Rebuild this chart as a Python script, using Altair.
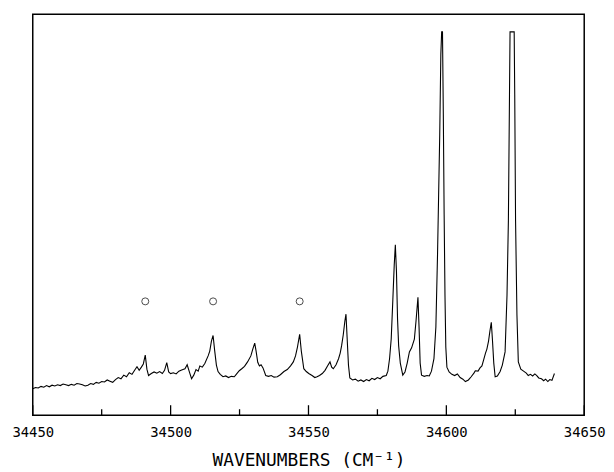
import altair as alt
import pandas as pd

# Spectrum: wavenumber (cm^-1) and intensity (arbitrary units, 0-100 plot scale)
wavenumber = [
    34450, 34451, 34452, 34453, 34454, 34455, 34456, 34457, 34458, 34459,
    34460, 34461, 34462, 34463, 34464, 34465, 34466, 34467, 34468, 34469,
    34470, 34471, 34472, 34473, 34474, 34475, 34476, 34477, 34478, 34479,
    34480, 34481, 34482, 34483, 34484, 34485, 34486, 34487, 34487.8, 34488.6,
    34489.4, 34490.1, 34490.8, 34491.4, 34492, 34493, 34494, 34495, 34496, 34497,
    34497.8, 34498.6, 34499.3, 34500, 34501, 34502, 34503, 34504, 34505.2, 34506,
    34506.8, 34507.6, 34508.4, 34509.2, 34510, 34510.6, 34511.5, 34512.4, 34513.6, 34514.2,
    34514.8, 34515.4, 34516, 34516.6, 34517.2, 34518, 34519, 34520, 34521, 34522,
    34523.1, 34523.8, 34524.9, 34525.8, 34526.8, 34527.9, 34529.1, 34529.8, 34530.5, 34531,
    34531.6, 34532.2, 34532.8, 34533.5, 34534.5, 34535.5, 34536.5, 34537.5, 34538.7, 34539.8,
    34541.1, 34542.3, 34543.5, 34544.5, 34545.3, 34546, 34546.8, 34547.4, 34548.3, 34549.2,
    34550.1, 34551.3, 34552.3, 34553.1, 34554, 34555, 34556, 34557, 34557.8, 34558.4,
    34559, 34560, 34560.9, 34561.5, 34562, 34562.6, 34563.2, 34563.6, 34564, 34564.5,
    34565, 34566, 34567, 34568, 34569, 34570, 34571, 34572, 34573, 34574,
    34575, 34576, 34577, 34578.2, 34578.8, 34579.4, 34580, 34580.6, 34581.1, 34581.5,
    34581.9, 34582.3, 34582.7, 34583.3, 34584.2, 34585, 34585.8, 34586.6, 34587.4, 34588.4,
    34589, 34589.7, 34590.1, 34590.5, 34591, 34592, 34593, 34593.8, 34594.6, 34595.5,
    34596.2, 34596.8, 34597.2, 34597.6, 34598.0, 34598.3, 34598.6, 34598.9, 34599.2, 34599.5,
    34599.8, 34600.2, 34601, 34602, 34603, 34604, 34605, 34606, 34606.9, 34608,
    34609, 34610, 34610.5, 34611.5, 34612.2, 34612.9, 34613.6, 34614.2, 34614.7, 34615.3,
    34615.8, 34616.3, 34616.7, 34617.2, 34617.7, 34618.5, 34619.5, 34620.3, 34621.3, 34622.0,
    34622.5, 34622.9, 34623.1, 34624.6, 34624.8, 34625.1, 34625.6, 34626.1, 34627, 34628,
    34629, 34629.7, 34630.5, 34631.3, 34632.1, 34632.8, 34633.5, 34634.5, 34635.3, 34636,
    34636.8, 34637.5, 34638.3, 34639.2,
]
intensity = [
    6.6, 6.9, 6.8, 7.2, 7.0, 7.4, 7.1, 7.5, 7.3, 7.6,
    7.4, 7.8, 7.6, 7.4, 7.7, 7.5, 7.9, 7.8, 7.6, 7.3,
    7.5, 7.9, 7.7, 8.2, 8.0, 8.4, 8.3, 8.8, 8.5, 8.2,
    8.9, 9.4, 9.1, 10.0, 9.6, 10.6, 10.2, 11.3, 12.1, 11.2,
    12.0, 12.8, 15.0, 11.5, 9.9, 10.4, 10.8, 10.5, 10.9, 10.4,
    11.2, 13.1, 10.8, 10.4, 10.6, 10.3, 11.0, 11.3, 11.6, 12.6,
    10.8, 9.1, 10.0, 11.4, 11.0, 12.3, 12.0, 12.9, 14.8, 16.0,
    18.5, 19.9, 16.0, 12.5, 10.9, 10.2, 9.6, 9.8, 9.4, 9.7,
    9.6, 10.2, 11.1, 11.6, 12.2, 13.3, 14.8, 16.5, 18.0, 16.0,
    13.2, 12.3, 12.6, 11.8, 9.9, 9.7, 9.9, 9.5, 9.6, 10.1,
    10.9, 11.4, 12.3, 13.3, 14.8, 17.0, 20.2, 16.0, 11.6, 10.9,
    10.4, 9.9, 9.4, 9.6, 9.9, 10.4, 11.2, 12.4, 13.3, 12.0,
    11.6, 12.6, 14.1, 15.5, 17.3, 20.0, 23.5, 25.2, 19.5, 12.5,
    9.3, 8.8, 9.0, 8.5, 8.8, 8.4, 8.9, 8.6, 9.2, 8.9,
    9.4, 9.1, 9.7, 9.9, 11.0, 14.1, 19.0, 28.9, 37.5, 42.5,
    36.0, 24.0, 17.3, 13.0, 10.0, 10.8, 13.0, 15.8, 16.8, 19.0,
    23.5, 29.4, 22.0, 13.0, 10.0, 9.7, 9.9, 9.8, 11.0, 14.1,
    22.0, 40.0, 55.0, 70.0, 90.0, 95.6, 95.6, 75.0, 50.0, 30.0,
    17.0, 12.0, 10.8, 10.2, 9.9, 10.3, 9.4, 9.0, 8.4, 8.8,
    9.6, 10.5, 11.1, 11.0, 11.8, 12.3, 14.0, 15.5, 16.5, 18.5,
    21.0, 23.2, 19.0, 13.0, 9.6, 9.8, 10.9, 12.5, 15.8, 30.0,
    48.6, 80.0, 95.6, 95.6, 80.0, 48.6, 25.0, 13.3, 11.5, 11.0,
    10.5, 9.9, 10.2, 9.8, 10.3, 9.9, 9.3, 9.1, 8.6, 9.0,
    8.4, 8.9, 8.7, 10.4,
]

# Circle markers above three weaker bands
marker_wn = [34490.8, 34515.4, 34546.8]
marker_level = [28.4, 28.4, 28.4]

# Axis ticks
major_ticks = [34450, 34500, 34550, 34600, 34650]
minor_ticks = [34475, 34525, 34575, 34625]
major_len = 2.5
minor_len = 1.5

spec = pd.DataFrame({"w": wavenumber, "v": intensity})
marks = pd.DataFrame({"w": marker_wn, "v": marker_level})
ticks = pd.DataFrame({
    "w": major_ticks + minor_ticks,
    "y0": [0.0] * (len(major_ticks) + len(minor_ticks)),
    "y1": [major_len] * len(major_ticks) + [minor_len] * len(minor_ticks),
})

font = "DejaVu Sans Mono"
xscale = alt.Scale(domain=[34450, 34650], nice=False, zero=False)
yscale = alt.Scale(domain=[0, 100], nice=False, zero=True)

xaxis = alt.Axis(
    title="WAVENUMBERS (CM⁻¹)",
    values=major_ticks,
    format="d",
    grid=False,
    domain=False,
    ticks=False,
    tickSize=0,
    labelFont=font,
    labelFontSize=14,
    labelColor="black",
    labelPadding=10,
    labelFlush=False,
    titleFont=font,
    titleFontSize=18,
    titleFontWeight="normal",
    titleColor="black",
    titlePadding=13,
)

line = alt.Chart(spec).mark_line(color="black", strokeWidth=1.1).encode(
    x=alt.X("w:Q", scale=xscale, axis=xaxis),
    y=alt.Y("v:Q", scale=yscale, axis=None),
)

circles = alt.Chart(marks).mark_point(
    shape="circle", filled=False, color="black", size=50, strokeWidth=1
).encode(
    x=alt.X("w:Q", scale=xscale),
    y=alt.Y("v:Q", scale=yscale),
)

tick_rules = alt.Chart(ticks).mark_rule(color="black", strokeWidth=1.3).encode(
    x=alt.X("w:Q", scale=xscale),
    y=alt.Y("y0:Q", scale=yscale),
    y2="y1:Q",
)

chart = (
    alt.layer(line, circles, tick_rules)
    .properties(
        width=557,
        height=405,
        autosize=alt.AutoSizeParams(type="none"),
        padding={"left": 25, "top": 4, "right": 22, "bottom": 56},
        background="white",
    )
    .configure_view(stroke="black", strokeWidth=1.5)
)

chart.save("out.html", embed_options={"renderer": "svg", "actions": False})
